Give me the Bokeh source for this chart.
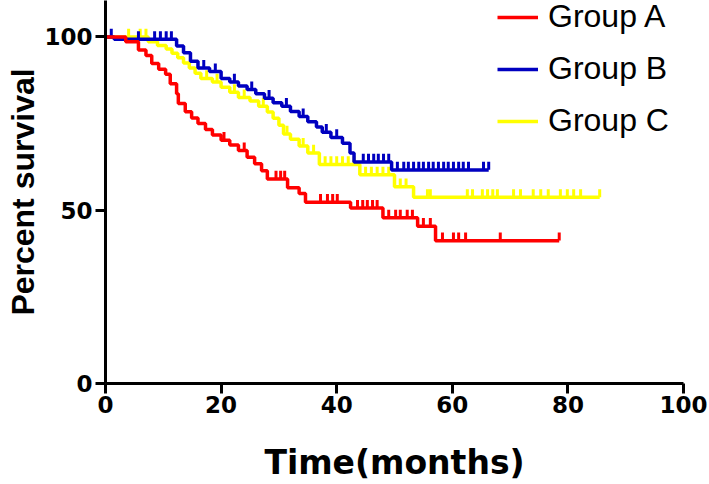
import numpy as np
from bokeh.plotting import figure
from bokeh.models import Range1d, FixedTicker, Legend, LegendItem
from bokeh.embed import file_html
from bokeh.resources import INLINE

# ---- data ----
series_names = ["Group A", "Group B", "Group C"]
series_colors = ["#FF0000", "#0000C0", "#FFFF00"]

a_times = [0, 3.5, 5.7, 7, 8, 9.2, 10.4, 11.2, 12.3, 12.6, 13.8, 14.9, 16, 17.3, 18.5, 20, 21.5, 23,
           24.5, 25.8, 27, 28, 31.5, 33.5, 34.6, 42.4, 48, 54, 57.1, 78.5]
a_surv = [100, 98.6, 96.2, 94.6, 92.3, 90.7, 89.2, 86.5, 83.6, 80.8, 78.4, 76.6, 75, 73.3, 71.7, 70.2,
          68.8, 67.2, 65.3, 63.4, 61.4, 59, 56.5, 54.8, 52.3, 50.6, 47.8, 45.4, 41.2, 41.2]
a_cens = [20.5, 24, 29.5, 30.3, 31, 37.2, 38.4, 39.3, 40.1, 43.6, 44.5, 45.3, 46.2, 47, 49, 50.2, 51,
          52.2, 53.1, 55, 56.2, 58.3, 60.2, 61.1, 62.3, 68.3, 78.5]

b_times = [0, 1.5, 12.3, 13.5, 14.7, 16, 18, 20, 21.5, 23, 24.5, 26, 27.5, 29, 30.5, 32, 33.5, 35,
           36.5, 37.5, 39, 41, 42.3, 43, 49.5, 66.3]
b_surv = [100, 99.3, 97.4, 95.4, 93, 91, 90, 88, 87, 85.8, 84.8, 83.6, 82.3, 81, 80, 78.5, 77, 75.5,
          74, 72.5, 71, 69.3, 66.5, 63.9, 61.6, 61.6]
b_cens = [1, 5.7, 8.5, 9.5, 10.5, 11.4, 17, 19, 22.3, 25.3, 28.3, 31.3, 34.2, 38.2, 40, 44.6, 45.5,
          46.4, 47.2, 48.1, 49, 50.5, 51.6, 52.4, 53.3, 54.2, 55, 55.9, 56.7, 57.6, 58.5, 59.3, 60.2,
          61.1, 61.9, 62.8, 65.4, 66.3]

c_times = [0, 7.4, 9, 10.5, 11.5, 12.5, 13.5, 14.5, 15.5, 16.5, 18.5, 20, 21.5, 23, 25, 26.5, 28, 29,
           30, 30.8, 32, 33.5, 35, 37, 44, 50, 53.3, 85.5]
c_surv = [100, 98.6, 97.5, 96.5, 95.3, 94, 92.5, 91, 89.5, 88, 87, 85.5, 84, 82.5, 81.5, 80, 78.3,
          76.5, 74.5, 72, 70.5, 68.5, 66.5, 63.2, 60.2, 56.8, 53.7, 53.7]
c_cens = [4, 6, 7, 17.5, 19.3, 22.3, 24, 27.3, 31.4, 34.2, 36, 38, 39, 40, 41, 42, 43, 45, 46, 47, 48,
          49, 51, 52, 55.7, 56.2, 62.6, 63.5, 65.2, 66.1, 67, 67.8, 70.6, 71.8, 74, 75.3, 76.6, 78.7,
          79.9, 81, 82.2, 85.5]

x_ticks = [0, 20, 40, 60, 80, 100]
y_ticks = [0, 50, 100]

# ---- figure ----
p = figure(width=709, height=484, x_range=Range1d(0, 100), y_range=Range1d(0, 110.5),
           output_backend="svg", toolbar_location=None,
           min_border_left=105, min_border_right=26, min_border_top=0, min_border_bottom=95)
p.outline_line_color = None
p.xgrid.grid_line_color = None
p.ygrid.grid_line_color = None
p.background_fill_color = "white"
p.border_fill_color = "white"

p.xaxis.ticker = FixedTicker(ticks=x_ticks)
p.yaxis.ticker = FixedTicker(ticks=y_ticks)
for ax in (p.xaxis, p.yaxis):
    ax.axis_line_width = 3
    ax.axis_line_color = "black"
    ax.major_tick_line_width = 3
    ax.major_tick_line_color = "black"
    ax.major_tick_out = 10
    ax.major_tick_in = 0
    ax.minor_tick_out = 0
    ax.minor_tick_in = 0
    ax.major_label_text_font = "DejaVu Sans"
    ax.major_label_text_font_style = "bold"
    ax.major_label_text_font_size = "23px"
    ax.major_label_text_color = "black"
    ax.axis_label_text_font_style = "bold"
    ax.axis_label_text_color = "black"

p.xaxis.major_label_standoff = 2
p.yaxis.major_label_standoff = 3
p.xaxis.axis_label = "Time(months)"
p.xaxis.axis_label_text_font = "DejaVu Sans"
p.xaxis.axis_label_text_font_size = "33px"
p.xaxis.axis_label_standoff = 27
p.yaxis.axis_label = "Percent survival"
p.yaxis.axis_label_text_font = "Liberation Sans"
p.yaxis.axis_label_text_font_size = "32px"
p.yaxis.axis_label_standoff = 0

series = [(a_times, a_surv, a_cens), (b_times, b_surv, b_cens), (c_times, c_surv, c_cens)]
tick_lift = 1.2  # censor mark centre sits slightly above the curve

renderers = {}
for idx in [2, 1, 0]:
    t, s, cens = series[idx]
    t = np.array(t, dtype=float)
    s = np.array(s, dtype=float)
    c = np.array(cens, dtype=float)
    color = series_colors[idx]
    line = p.step(t, s, mode="after", line_width=3.5, line_color=color)
    pos = np.searchsorted(t, c, side="right") - 1
    cy = s[pos] + tick_lift
    marks = p.scatter(c, cy, marker="dash", angle=np.pi / 2, size=8,
                      line_width=3, line_color=color, fill_color=color)
    renderers[idx] = (line, marks)

items = [LegendItem(label=series_names[i], renderers=list(renderers[i])) for i in range(3)]
legend = Legend(items=items, location=(392, 244), label_text_font="Liberation Sans",
                label_text_font_size="32px", label_text_color="black",
                glyph_width=41, glyph_height=30, label_height=30, spacing=15,
                padding=0, margin=0, border_line_color=None, background_fill_alpha=0,
                label_standoff=10)
p.add_layout(legend)

open("out.html", "w").write(file_html(p, INLINE))
